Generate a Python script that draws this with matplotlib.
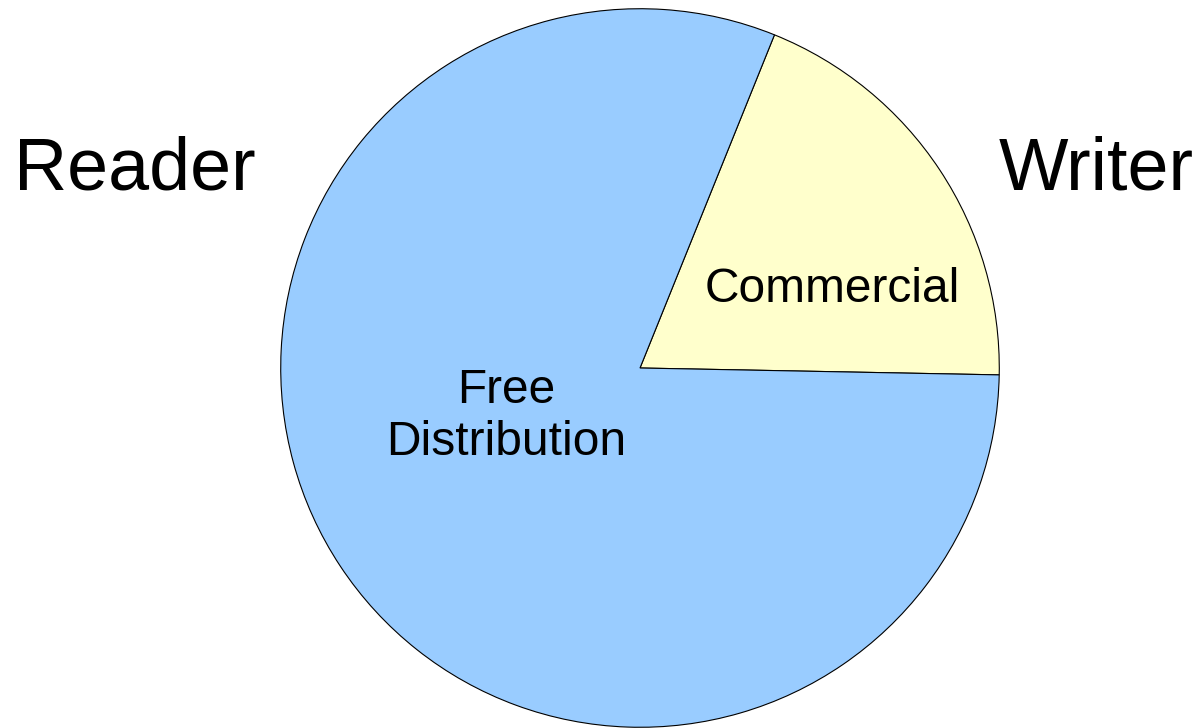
import matplotlib.pyplot as plt

plt.rcParams['font.family'] = ['Liberation Sans', 'DejaVu Sans']

# Slice data
slices = ["Commercial", "Free\nDistribution"]
shares = [19.2, 80.8]
colors = ["#ffffcc", "#99ccff"]
side_labels = ["Reader", "Writer"]

W, H = 1201, 728
fig = plt.figure(figsize=(W / 100, H / 100), dpi=100)

# axes sized so the pie fills x 280..1000, y 8..728 (pixels)
ax = fig.add_axes([280 / W, 0, 720 / W, 720 / H])
ax.pie(shares, colors=colors, startangle=-1.1, counterclock=True,
       wedgeprops=dict(edgecolor="black", linewidth=0.8))
ax.set_xlim(-1.002, 1.002)
ax.set_ylim(-1.002, 1.002)
ax.set_aspect("equal")
ax.axis("off")


def px(x, y):
    return x / W, 1 - y / H


# slice labels
fig.text(*px(832, 302), slices[0], ha="center", va="baseline", fontsize=34.5)
fig.text(*px(506, 403), "Free", ha="center", va="baseline", fontsize=34.5)
fig.text(*px(506, 455), "Distribution", ha="center", va="baseline", fontsize=34.5)

# side labels
fig.text(*px(14, 190), side_labels[0], ha="left", va="baseline", fontsize=53)
fig.text(*px(1194, 190), side_labels[1], ha="right", va="baseline", fontsize=53)

fig.savefig("out.png", dpi=100, facecolor="white")
